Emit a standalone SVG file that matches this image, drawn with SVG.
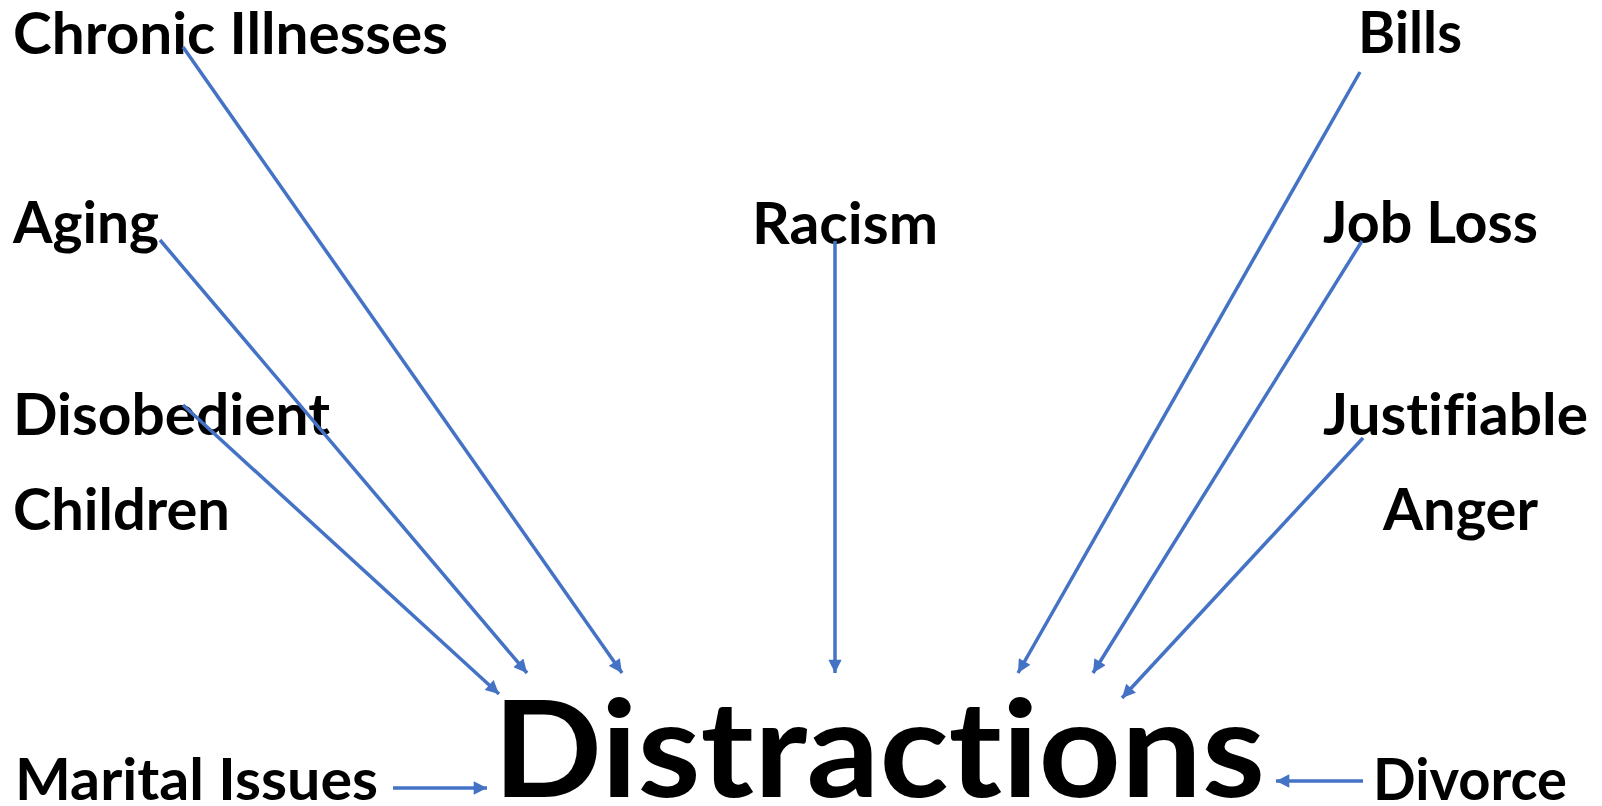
<svg xmlns="http://www.w3.org/2000/svg" width="1602" height="806" viewBox="0 0 1602 806">
<style>
.t{font-family:Lato,"Open Sans","Liberation Sans",sans-serif;font-weight:bold;fill:#000;font-size:57px;font-variant-ligatures:none;font-feature-settings:"liga" 0}
.big{font-size:135px}
.c{stroke:#4472C4;stroke-width:3.5;fill:none;marker-end:url(#ah)}
</style>
<defs>
<marker id="ah" viewBox="0 0 10 10" refX="10" refY="5" markerWidth="4.3" markerHeight="3.8" orient="auto" markerUnits="strokeWidth">
<path d="M0,0 L10,5 L0,10 z" fill="#4472C4"/>
</marker>
</defs>
<rect width="1602" height="806" fill="#fff"/>
<g id="center"><text class="t big" x="493" y="797" textLength="772" lengthAdjust="spacingAndGlyphs">Distractions</text></g>
<g id="chronic"><text class="t" x="13" y="54" textLength="435" lengthAdjust="spacingAndGlyphs">Chronic Illnesses</text></g>
<g id="bills"><text class="t" x="1358" y="53" textLength="104" lengthAdjust="spacingAndGlyphs">Bills</text></g>
<g id="aging"><text class="t" x="13" y="243" textLength="146" lengthAdjust="spacingAndGlyphs">Aging</text></g>
<g id="racism"><text class="t" x="752" y="244" textLength="186" lengthAdjust="spacingAndGlyphs">Racism</text></g>
<g id="jobloss"><text class="t" x="1323" y="243" textLength="215" lengthAdjust="spacingAndGlyphs">Job Loss</text></g>
<g id="children"><text class="t" x="13" y="435" textLength="317" lengthAdjust="spacingAndGlyphs">Disobedient</text><text class="t" x="13" y="530" textLength="217" lengthAdjust="spacingAndGlyphs">Children</text></g>
<g id="anger"><text class="t" x="1323" y="435" textLength="265" lengthAdjust="spacingAndGlyphs">Justifiable</text><text class="t" x="1383" y="530" textLength="155" lengthAdjust="spacingAndGlyphs">Anger</text></g>
<g id="marital"><text class="t" x="15" y="800" textLength="363" lengthAdjust="spacingAndGlyphs">Marital Issues</text></g>
<g id="divorce"><text class="t" x="1373" y="800" textLength="194" lengthAdjust="spacingAndGlyphs">Divorce</text></g>
<g id="connectors">
<line class="c" x1="183" y1="47" x2="622" y2="673"/>
<line class="c" x1="160" y1="240" x2="527" y2="673"/>
<line class="c" x1="183" y1="405" x2="499" y2="694"/>
<line class="c" x1="835" y1="241" x2="835" y2="673"/>
<line class="c" x1="1360" y1="72" x2="1018" y2="673"/>
<line class="c" x1="1362" y1="241" x2="1093" y2="673"/>
<line class="c" x1="1363" y1="438" x2="1122" y2="698"/>
<line class="c" x1="393" y1="788" x2="487" y2="788"/>
<line class="c" x1="1363" y1="781" x2="1276" y2="781"/>
</g>
</svg>
